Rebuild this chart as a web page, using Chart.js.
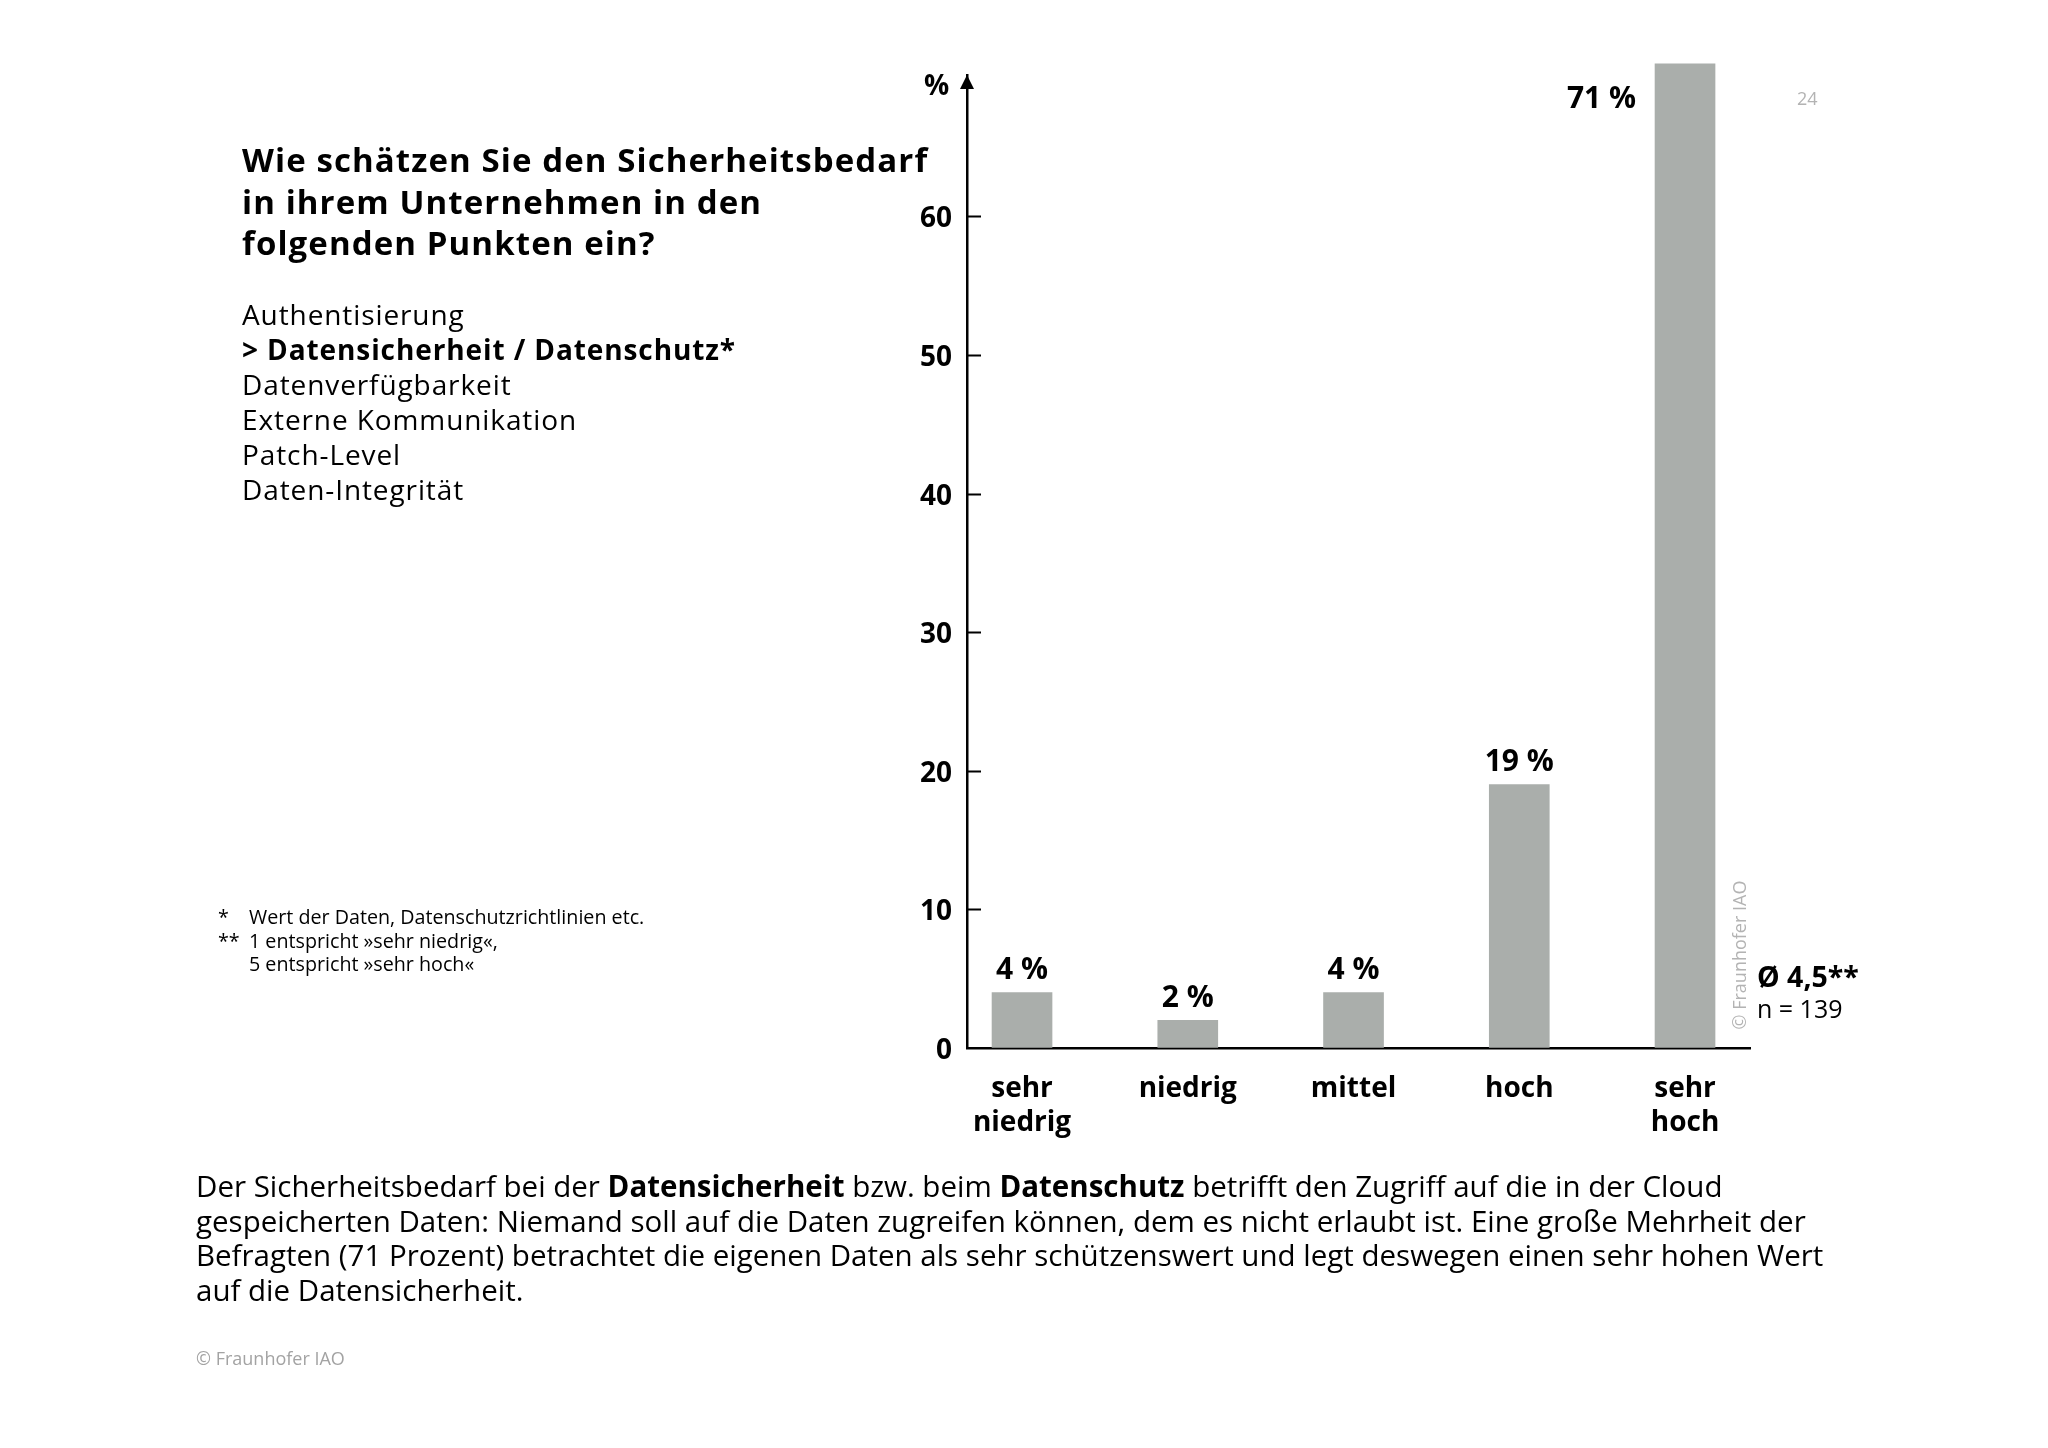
<!DOCTYPE html>
<html lang="de">
<head>
<meta charset="utf-8">
<title>Sicherheitsbedarf: Datensicherheit / Datenschutz</title>
<script src="https://cdn.jsdelivr.net/npm/chart.js@4.4.1/dist/chart.umd.min.js"></script>
<style>
  body { margin: 0; background: #fff; color: #000; font-family: "Open Sans", sans-serif; }
  #page { position: relative; width: 2048px; height: 1448px; overflow: hidden; }
  #chart { position: absolute; left: 0; top: 0; }
  .t { position: absolute; white-space: nowrap; }
  #title { left: 242px; top: 139px; font-size: 33px; line-height: 41.5px; font-weight: 700; letter-spacing: 1.1px; }
  #items { left: 242px; top: 297px; font-size: 28px; line-height: 35px; letter-spacing: 0.9px; }
  #notes { left: 218px; top: 905px; font-size: 19.7px; line-height: 23.5px; }
  #notes span { display: inline-block; width: 31px; }
  #para { left: 196px; top: 1169px; font-size: 29.5px; line-height: 34.7px; }
  #copy { left: 196px; top: 1349px; font-size: 18px; line-height: 18px; color: #a3a3a3; }
  #pct { left: 924px; top: 70px; font-size: 28px; line-height: 28px; font-weight: 700; }
  #pageno { left: 1797px; top: 89px; font-size: 18px; line-height: 18px; color: #b3b3b3; }
  #avg { left: 1757px; top: 962px; font-size: 28.5px; line-height: 28.5px; font-weight: 700; }
  #n { left: 1757px; top: 996px; font-size: 25px; line-height: 25px; }
  #vcopy { left: 1739px; top: 955px; font-size: 18px; line-height: 18px; color: #b3b3b3;
           transform: translate(-50%, -50%) rotate(-90deg); }
</style>
</head>
<body>
<div id="page">
  <canvas id="chart" width="2048" height="1448"></canvas>

  <div class="t" id="title">Wie schätzen Sie den Sicherheitsbedarf<br>in ihrem Unternehmen in den<br>folgenden Punkten ein?</div>
  <div class="t" id="items">Authentisierung<br><b>&gt; Datensicherheit / Datenschutz*</b><br>Datenverfügbarkeit<br>Externe Kommunikation<br>Patch-Level<br>Daten-Integrität</div>
  <div class="t" id="notes"><span>*</span>Wert der Daten, Datenschutzrichtlinien etc.<br><span>**</span>1 entspricht »sehr niedrig«,<br><span></span>5 entspricht »sehr hoch«</div>
  <div class="t" id="para">Der Sicherheitsbedarf bei der <b>Datensicherheit</b> bzw. beim <b>Datenschutz</b> betrifft den Zugriff auf die in der Cloud<br>gespeicherten Daten: Niemand soll auf die Daten zugreifen können, dem es nicht erlaubt ist. Eine große Mehrheit der<br>Befragten (71 Prozent) betrachtet die eigenen Daten als sehr schützenswert und legt deswegen einen sehr hohen Wert<br>auf die Datensicherheit.</div>
  <div class="t" id="copy">© Fraunhofer IAO</div>
  <div class="t" id="pct">%</div>
  <div class="t" id="pageno">24</div>
  <div class="t" id="avg">Ø 4,5**</div>
  <div class="t" id="n">n = 139</div>
  <div class="t" id="vcopy">© Fraunhofer IAO</div>
</div>

<script>
// answer categories (x axis), shares in percent, y tick labels
const categories = [["sehr", "niedrig"], ["niedrig"], ["mittel"], ["hoch"], ["sehr", "hoch"]];
const shares = [4, 2, 4, 19, 71];
const yTicks = [0, 10, 20, 30, 40, 50, 60];

const barGrey = "#aaaeab";
const labelFont = { family: "Open Sans", weight: "bold", size: 28 };

// arrow head, inner tick marks and the value labels above the bars
const axisDecor = {
    id: "axisDecor",
    afterDraw(chart) {
        const { ctx, chartArea, scales } = chart;
        const y = scales.y;
        ctx.save();

        ctx.fillStyle = "#000";
        ctx.beginPath();
        ctx.moveTo(chartArea.left, chartArea.top);
        ctx.lineTo(chartArea.left - 7, chartArea.top + 14);
        ctx.lineTo(chartArea.left + 7, chartArea.top + 14);
        ctx.closePath();
        ctx.fill();

        ctx.strokeStyle = "#000";
        ctx.lineWidth = 2;
        y.ticks.forEach((t) => {
            if (t.value === 0) return;
            const py = Math.round(y.getPixelForValue(t.value)) + 0.5;
            ctx.beginPath();
            ctx.moveTo(chartArea.left, py);
            ctx.lineTo(chartArea.left + 14, py);
            ctx.stroke();
        });

        ctx.font = "bold 30px 'Open Sans'";
        ctx.textBaseline = "middle";
        const meta = chart.getDatasetMeta(0);
        meta.data.forEach((bar, i) => {
            const txt = shares[i] + " %";
            if (bar.y < chartArea.top + 40) {
                // bar runs up to the arrow, label goes beside it
                ctx.textAlign = "right";
                ctx.fillText(txt, bar.x - bar.width / 2 - 19, chartArea.top + 24);
            } else {
                ctx.textAlign = "center";
                ctx.fillText(txt, bar.x, bar.y - 22);
            }
        });
        ctx.restore();
    },
};

new Chart(document.getElementById("chart"), {
    type: "bar",
    data: {
        datasets: [
            {
                data: shares.map((v, i) => ({ x: i, y: v })),
                backgroundColor: barGrey,
                borderWidth: 0,
                barThickness: 60,
                clip: false,
            },
        ],
    },
    options: {
        responsive: false,
        animation: false,
        layout: { padding: { left: 907, right: 298, top: 75, bottom: 300 } },
        plugins: {
            legend: { display: false },
            tooltip: { enabled: false },
        },
        scales: {
            x: {
                type: "linear",
                min: -0.332,
                max: 4.392,
                offset: false,
                afterBuildTicks: (axis) => {
                    axis.ticks = categories.map((c, i) => ({ value: i }));
                },
                afterFit: (axis) => {
                    axis.height = 100;
                },
                grid: { drawOnChartArea: false, drawTicks: false, offset: false },
                border: { display: true, color: "#000", width: 2.5 },
                ticks: {
                    color: "#000",
                    font: { ...labelFont, lineHeight: 1.18 },
                    padding: 25,
                    maxRotation: 0,
                    autoSkip: false,
                    callback: (v) => categories[v],
                },
            },
            y: {
                min: 0,
                max: 70.2,
                afterBuildTicks: (axis) => {
                    axis.ticks = yTicks.map((v) => ({ value: v }));
                },
                afterFit: (axis) => {
                    axis.width = 60;
                },
                grid: { drawOnChartArea: false, drawTicks: false },
                border: { display: true, color: "#000", width: 2.5 },
                ticks: {
                    color: "#000",
                    font: labelFont,
                    padding: 15,
                    labelOffset: 3,
                },
            },
        },
    },
    plugins: [axisDecor],
});
</script>
</body>
</html>
